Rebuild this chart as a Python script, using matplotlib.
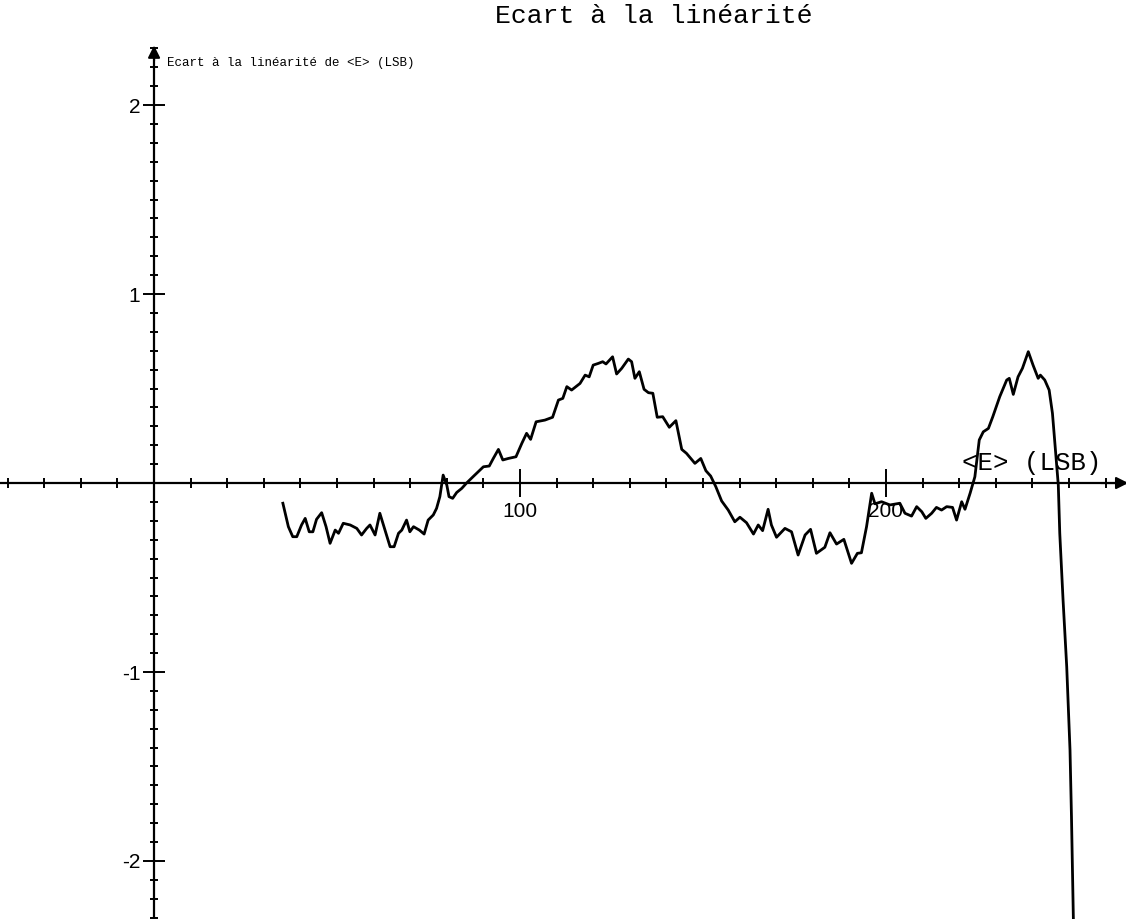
import matplotlib.pyplot as plt
import numpy as np

# deviation from linearity of <E>, in LSB
e_mean = [35.2, 36.7, 37.9, 39.0, 40.3, 41.3, 42.4, 43.4, 44.4, 45.8,
          47.0, 48.1, 49.5, 50.4, 51.7, 53.6, 55.4, 56.7, 58.1, 59.0,
          60.4, 61.7, 63.1, 64.5, 65.6, 66.8, 67.7, 69.0, 69.9, 70.9,
          72.5, 73.8, 74.9, 76.3, 77.2, 78.1, 79.0, 80.0, 80.6, 81.6,
          82.7, 84.1, 85.4, 87.2, 90.0, 91.6, 92.7, 94.1, 95.3, 96.8,
          98.9, 100.5, 101.8, 102.9, 104.4, 106.8, 108.9, 110.5, 111.7, 112.8,
          114.1, 116.4, 117.8, 118.9, 120.0, 121.4, 122.6, 123.5, 125.3, 126.4,
          127.8, 129.6, 130.5, 131.4, 132.6, 133.9, 135.1, 136.3, 137.5, 139.0,
          140.8, 142.6, 144.2, 145.5, 147.8, 149.4, 150.8, 152.1, 153.5, 155.1,
          156.9, 158.7, 160.1, 161.9, 163.8, 165.1, 166.3, 167.8, 168.7, 170.1,
          172.4, 174.2, 176.0, 177.9, 179.4, 181.0, 183.3, 184.7, 186.5, 188.5,
          190.6, 192.2, 193.3, 194.7, 196.1, 197.0, 198.8, 201.1, 203.8, 205.2,
          207.0, 208.4, 209.8, 210.9, 212.5, 213.8, 215.2, 216.6, 218.2, 219.3,
          220.7, 221.6, 223.0, 224.3, 225.5, 226.6, 228.0, 229.2, 231.1, 233.0,
          233.7, 234.8, 236.1, 237.3, 238.9, 240.2, 241.6, 242.2, 243.4, 244.6,
          245.5, 246.4, 247.1, 247.5, 248.4, 249.4, 250.3, 250.7, 251.2, 251.6]
ecart = [-0.107, -0.231, -0.284, -0.284, -0.222, -0.187, -0.258, -0.258, -0.192, -0.157,
         -0.231, -0.319, -0.249, -0.266, -0.213, -0.222, -0.240, -0.275, -0.240, -0.222,
         -0.275, -0.160, -0.249, -0.337, -0.337, -0.266, -0.249, -0.196, -0.258, -0.231,
         -0.249, -0.270, -0.196, -0.169, -0.134, -0.072, 0.042, -0.011, -0.072, -0.081,
         -0.050, -0.028, 0.000, 0.034, 0.086, 0.090, 0.130, 0.178, 0.122, 0.130,
         0.139, 0.210, 0.263, 0.231, 0.324, 0.333, 0.348, 0.439, 0.448, 0.510,
         0.492, 0.527, 0.571, 0.562, 0.624, 0.633, 0.642, 0.630, 0.668, 0.577,
         0.607, 0.656, 0.642, 0.554, 0.589, 0.496, 0.478, 0.475, 0.348, 0.351,
         0.295, 0.330, 0.178, 0.157, 0.104, 0.130, 0.065, 0.037, -0.019, -0.095,
         -0.143, -0.205, -0.181, -0.210, -0.270, -0.222, -0.252, -0.139, -0.222, -0.287,
         -0.240, -0.258, -0.381, -0.275, -0.245, -0.372, -0.340, -0.263, -0.323, -0.298,
         -0.425, -0.372, -0.369, -0.231, -0.054, -0.110, -0.099, -0.116, -0.107, -0.160,
         -0.175, -0.125, -0.152, -0.187, -0.160, -0.129, -0.143, -0.125, -0.129, -0.196,
         -0.099, -0.139, -0.054, 0.033, 0.228, 0.271, 0.289, 0.351, 0.457, 0.545,
         0.554, 0.469, 0.562, 0.607, 0.695, 0.624, 0.554, 0.571, 0.545, 0.492,
         0.369, 0.157, -0.011, -0.266, -0.619, -0.972, -1.413, -1.766, -2.295, -2.600]

x_major = [100, 200]
x_labels = ['100', '200']
y_major = [-2, -1, 1, 2]
y_labels = ['-2', '-1', '1', '2']

mono = 'Liberation Mono'

fig = plt.figure(figsize=(11.26, 9.19), dpi=100)
ax = fig.add_axes([0, 0, 1, 1])
ax.set_xlim(-42.1, 265.6)
ax.set_ylim(-2.307, 2.556)

ax.plot(e_mean, ecart, color='black', lw=2.0, zorder=3)

# axes through the origin
for side in ['top', 'right']:
    ax.spines[side].set_visible(False)
ax.spines['left'].set_position('zero')
ax.spines['bottom'].set_position('zero')
ax.spines['left'].set_bounds(-2.307, 2.3)
ax.spines['left'].set_linewidth(1.6)
ax.spines['bottom'].set_linewidth(1.6)

ax.annotate('', xy=(0, 2.33), xytext=(0, 2.22),
            arrowprops=dict(arrowstyle='-|>', color='black', lw=1.5, mutation_scale=18),
            annotation_clip=False)
ax.annotate('', xy=(267, 0), xytext=(258, 0),
            arrowprops=dict(arrowstyle='-|>', color='black', lw=1.5, mutation_scale=18),
            annotation_clip=False)

ax.set_xticks(x_major)
ax.set_xticklabels(x_labels)
ax.set_xticks([v for v in range(-40, 270, 10) if v not in (0, 100, 200)], minor=True)
ax.set_yticks(y_major)
ax.set_yticklabels(y_labels)
ax.set_yticks([v / 10 for v in range(-23, 24) if v % 10 != 0], minor=True)

ax.tick_params(axis='x', which='major', direction='inout', length=20, width=1.4, pad=4,
               labelsize=15)
ax.tick_params(axis='x', which='minor', direction='inout', length=7, width=1.4)
ax.tick_params(axis='y', which='major', direction='inout', length=16, width=1.4, pad=2,
               labelsize=15)
ax.tick_params(axis='y', which='minor', direction='inout', length=6, width=1.4)
for lab in ax.get_xticklabels() + ax.get_yticklabels():
    lab.set_family('Liberation Sans')

ax.text(3.5, 2.225, 'Ecart à la linéarité de <E> (LSB)', family=mono, fontsize=9,
        ha='left', va='center')
ax.text(259, 0.045, '<E> (LSB)', family=mono, fontsize=18.5, ha='right', va='bottom')
fig.text(0.581, 1 - 16 / 919, 'Ecart à la linéarité', family=mono, fontsize=19,
         ha='center', va='center')

fig.savefig('out.png', dpi=100)
